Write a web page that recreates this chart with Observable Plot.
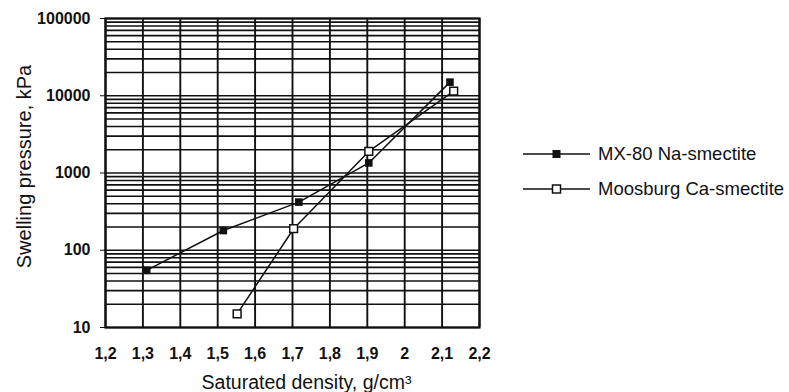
<!DOCTYPE html>
<html>
<head>
<meta charset="utf-8">
<script src="https://cdn.jsdelivr.net/npm/d3@7"></script>
<script src="https://cdn.jsdelivr.net/npm/@observablehq/plot@0.6"></script>
<style>
  body { margin: 0; background: #fff; }
  #chart { position: relative; width: 789px; height: 392px; font-family: "Liberation Sans", Arial, Helvetica, sans-serif; color: #111; }
  #chart svg.plot { position: absolute; left: 0; top: 0; }
  #legend { position: absolute; left: 523px; top: 136px; }
  .row { display: flex; align-items: center; height: 35px; font-size: 18.5px; white-space: nowrap; }
  .row svg { margin-right: 7px; }
  g[aria-label="x-axis tick label"] text, g[aria-label="y-axis tick label"] text { font-weight: bold; }
</style>
</head>
<body>
<div id="chart"><div id="legend"></div></div>
<script>
// Swelling pressure of two smectite clays versus saturated density
const seriesNames = ["MX-80 Na-smectite", "Moosburg Ca-smectite"];
const mxDensity = [1.31, 1.515, 1.717, 1.904, 2.121];
const mxPressure = [55, 180, 420, 1350, 15000];
const moosDensity = [1.552, 1.703, 1.904, 2.131];
const moosPressure = [15, 190, 1900, 11500];

const xTicks = [1.2, 1.3, 1.4, 1.5, 1.6, 1.7, 1.8, 1.9, 2.0, 2.1, 2.2];
const xTickLabels = ["1,2", "1,3", "1,4", "1,5", "1,6", "1,7", "1,8", "1,9", "2", "2,1", "2,2"];
const yTicks = [10, 100, 1000, 10000, 100000];
const yTickLabels = ["10", "100", "1000", "10000", "100000"];
const xTitle = "Saturated density, g/cm³";
const yTitle = "Swelling pressure, kPa";

const mx = mxDensity.map((d, i) => ({density: d, pressure: mxPressure[i]}));
const moos = moosDensity.map((d, i) => ({density: d, pressure: moosPressure[i]}));

// log grid: every integer multiple within each decade
const yGrid = [];
for (const base of yTicks.slice(0, -1)) for (let k = 1; k < 10; k++) yGrid.push(base * k);
yGrid.push(yTicks[yTicks.length - 1]);

const ink = "#111";
const xLabel = d => xTickLabels[xTicks.findIndex(t => Math.abs(t - d) < 1e-9)];
const yLabel = d => yTickLabels[yTicks.indexOf(d)];

const chart = Plot.plot({
  width: 789,
  height: 392,
  marginLeft: 105,
  marginRight: 310,
  marginTop: 18,
  marginBottom: 65,
  style: {fontFamily: '"Liberation Sans", Arial, Helvetica, sans-serif', color: ink, background: "transparent"},
  x: {domain: [1.2, 2.2]},
  y: {type: "log", domain: [10, 100000]},
  marks: [
    Plot.ruleY(yGrid, {stroke: ink, strokeWidth: 1.7}),
    Plot.ruleX(xTicks, {stroke: ink, strokeWidth: 1.9}),
    Plot.frame({stroke: ink, strokeWidth: 2.2}),
    Plot.axisX({ticks: xTicks, tickFormat: xLabel, tickSize: 0, tickPadding: 20, fontSize: 16, label: null}),
    Plot.axisY({ticks: yTicks, tickFormat: yLabel, tickSize: 5, tickPadding: 10, fontSize: 16, label: null}),
    Plot.text([xTitle], {frameAnchor: "bottom", textAnchor: "middle", dy: 55, dx: 14, lineAnchor: "middle", fontSize: 19.5, fill: ink}),
    Plot.text([yTitle], {frameAnchor: "left", textAnchor: "middle", rotate: -90, dx: -81, dy: -6.5, lineAnchor: "middle", fontSize: 20, fill: ink}),
    Plot.line(mx, {x: "density", y: "pressure", stroke: ink, strokeWidth: 1.5}),
    Plot.line(moos, {x: "density", y: "pressure", stroke: ink, strokeWidth: 1.5}),
    Plot.dot(mx, {x: "density", y: "pressure", symbol: "square", r: 4.3, fill: ink, stroke: "none"}),
    Plot.dot(moos, {x: "density", y: "pressure", symbol: "square", r: 4.4, fill: "#fff", stroke: ink, strokeWidth: 1.5})
  ]
});
document.getElementById("chart").prepend(chart);

// legend: line with marker, then the series name
const legend = d3.select("#legend");
seriesNames.forEach((name, i) => {
  const row = legend.append("div").attr("class", "row");
  const sw = row.append("svg").attr("width", 68).attr("height", 14);
  sw.append("line").attr("x1", 0).attr("x2", 67).attr("y1", 7).attr("y2", 7)
    .attr("stroke", ink).attr("stroke-width", 1.5);
  sw.append("rect").attr("x", 29.5).attr("y", 3).attr("width", 8).attr("height", 8)
    .attr("fill", i === 0 ? ink : "#fff").attr("stroke", ink).attr("stroke-width", i === 0 ? 0 : 1.5);
  row.append("span").text(name);
});
</script>
</body>
</html>
